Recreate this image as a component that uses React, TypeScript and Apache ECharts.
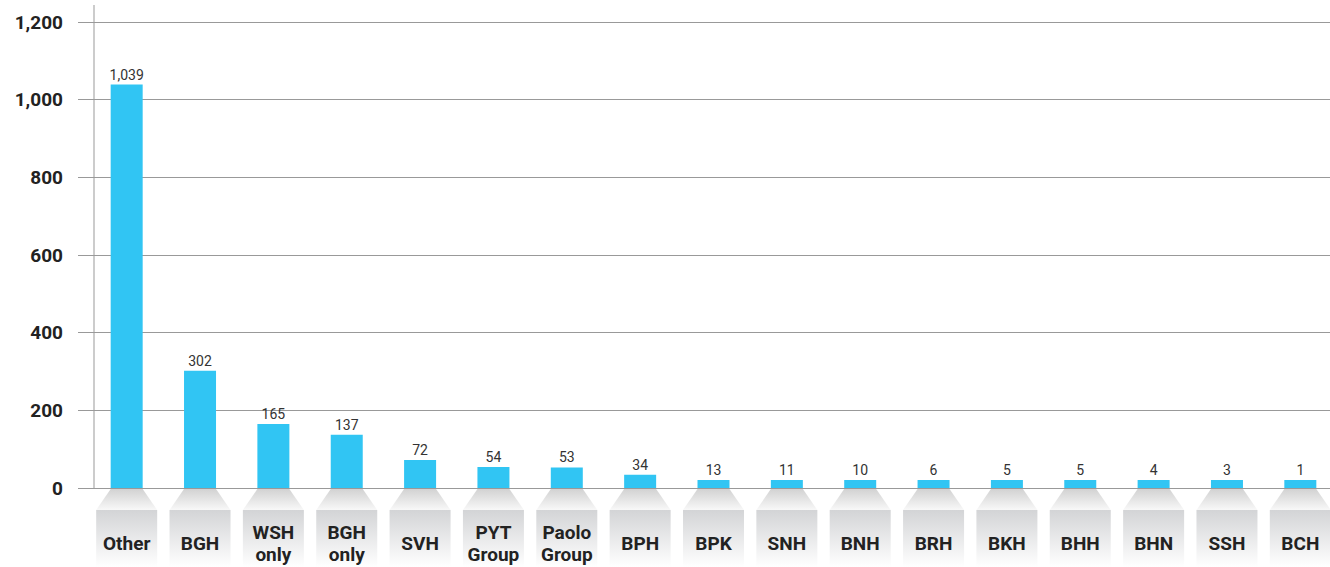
import React, { useEffect, useRef } from "react";
import * as echarts from "echarts";

const categories = [
  "Other", "BGH", "WSH\nonly", "BGH\nonly", "SVH", "PYT\nGroup", "Paolo\nGroup",
  "BPH", "BPK", "SNH", "BNH", "BRH", "BKH", "BHH", "BHN", "SSH", "BCH",
];
const values = [1039, 302, 165, 137, 72, 54, 53, 34, 13, 11, 10, 6, 5, 5, 4, 3, 1];
const yTicks = { min: 0, max: 1200, interval: 200 };

const FONT = "Roboto, 'Liberation Sans', sans-serif";

export default function App() {
  const ref = useRef<HTMLDivElement>(null);
  useEffect(() => {
    if (!ref.current) return;
    const chart = echarts.init(ref.current, null, { renderer: "svg" });
    const tabData = categories.map((_, i) => [i, 0]);
    chart.setOption({
      animation: false,
      backgroundColor: "#ffffff",
      grid: { left: 90, top: 22, width: 1247, height: 466, containLabel: false },
      xAxis: {
        type: "category",
        data: categories,
        z: 10,
        axisTick: { show: false },
        axisLine: { show: true, lineStyle: { color: "#999999", width: 1 } },
        axisLabel: {
          interval: 0,
          margin: 55,
          verticalAlign: "middle",
          lineHeight: 22,
          fontSize: 19,
          fontWeight: "bold",
          fontFamily: FONT,
          color: "#222222",
        },
      },
      yAxis: {
        type: "value",
        min: yTicks.min,
        max: yTicks.max,
        interval: yTicks.interval,
        axisLine: { show: false },
        axisTick: { show: true, length: 12, lineStyle: { color: "#999999" } },
        splitLine: { show: true, lineStyle: { color: "#999999", width: 1 } },
        axisLabel: {
          margin: 27,
          fontSize: 19,
          fontWeight: "bold",
          fontFamily: FONT,
          color: "#222222",
          formatter: (v: number) => v.toLocaleString("en-US"),
        },
      },
      graphic: [
        {
          type: "line",
          shape: { x1: 94, y1: 5, x2: 94, y2: 488 },
          style: { stroke: "#999999", lineWidth: 1 },
          z: 5,
        },
      ],
      series: [
        {
          type: "custom",
          silent: true,
          clip: false,
          z: 1,
          data: tabData,
          encode: { x: 0, y: 1 },
          renderItem: (params: any, api: any) => {
            const p = api.coord([api.value(0), 0]);
            const cx = p[0];
            const y0 = p[1];
            return {
              type: "group",
              children: [
                {
                  type: "polygon",
                  shape: {
                    points: [
                      [cx - 16, y0 + 1],
                      [cx + 16, y0 + 1],
                      [cx + 30.5, y0 + 22],
                      [cx - 30.5, y0 + 22],
                    ],
                  },
                  style: {
                    fill: new echarts.graphic.LinearGradient(0, 0, 0, 1, [
                      { offset: 0, color: "#d2d2d2" },
                      { offset: 1, color: "#f8f8f8" },
                    ]),
                  },
                },
                {
                  type: "rect",
                  shape: { x: cx - 30.5, y: y0 + 22, width: 61, height: 57 },
                  style: {
                    fill: new echarts.graphic.LinearGradient(0, 0, 0, 1, [
                      { offset: 0, color: "#d3d4d6" },
                      { offset: 1, color: "#ffffff" },
                    ]),
                  },
                },
              ],
            };
          },
        },
        {
          type: "bar",
          z: 2,
          data: values,
          barWidth: 32,
          barMinHeight: 8,
          itemStyle: { color: "#31c5f3" },
          label: {
            show: true,
            position: "top",
            distance: 3,
            fontSize: 14,
            fontFamily: FONT,
            color: "#333333",
            formatter: (p: any) => Number(p.value).toLocaleString("en-US"),
          },
        },
      ],
    });
    return () => chart.dispose();
  }, []);
  return (
    <div
      ref={ref}
      style={{ position: "fixed", left: 0, top: 0, width: 1340, height: 567 }}
    />
  );
}
